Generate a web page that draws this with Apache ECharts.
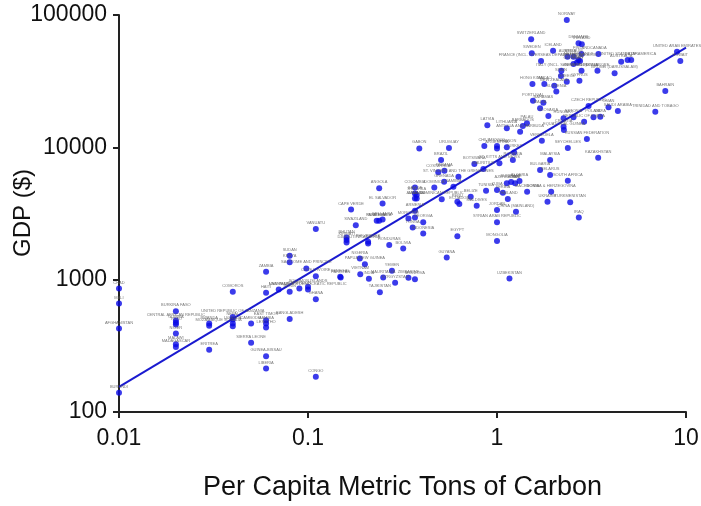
<!DOCTYPE html>
<html>
<head>
<meta charset="utf-8">
<script src="https://cdn.jsdelivr.net/npm/echarts@6/dist/echarts.min.js"></script>
<style>
html,body{margin:0;padding:0;background:#fff;}
#chart{width:701px;height:506px;}
</style>
</head>
<body>
<div id="chart"></div>
<script>
// Country names, per capita carbon (metric tons), GDP ($)
const countries = [
"CHAD","MALI","AFGHANISTAN","BURUNDI","BURKINA FASO","CENTRAL AFRICAN REPUBLIC","GUINEA","TOGO","NIGER","MALAWI",
"MADAGASCAR","ERITREA","COMOROS","RWANDA","MOZAMBIQUE","UNITED REPUBLIC OF TANZANIA","NEPAL","UGANDA","SOMALIA","CAMBODIA",
"EAST TIMOR","GAMBIA","LESOTHO","BANGLADESH","SIERRA LEONE","GUINEA-BISSAU","LIBERIA","CONGO","ZAMBIA","SUDAN",
"KENYA","HAITI","MYANMAR","BENIN","CAMEROON","SOLOMON ISLANDS","LAO PEOPLE'S DEMOCRATIC REPUBLIC","COTE D'IVOIRE","GHANA","SENEGAL",
"ANGOLA","EL SALVADOR","CAPE VERDE","VANUATU","SWAZILAND","PARAGUAY","GUATEMALA","SRI LANKA","ARMENIA","MOROCCO",
"FIJI","GEORGIA","TONGA","INDONESIA","EGYPT","MONGOLIA","SYRIAN ARAB REPUBLIC","CHINA (MAINLAND)","JORDAN","BELIZE",
"MALDIVES","ECUADOR","PERU","COLOMBIA","SAMOA","ST. LUCIA","ALBANIA","JAMAICA","DOMINICA","DOMINICAN REPUBLIC",
"GRENADA","HONDURAS","BOLIVIA","BHUTAN","KIRIBATI","DJIBOUTI","NICARAGUA","PHILIPPINES","NIGERIA","PAPUA NEW GUINEA",
"GUYANA","SAO TOME AND PRINCIPE","PAKISTAN","VIETNAM","INDIA","YEMEN","KYRGYZSTAN","ZIMBABWE","MOLDOVA","TAJIKISTAN",
"UZBEKISTAN","MAURITANIA","GABON","URUGUAY","BRAZIL","PANAMA","COSTA RICA","ST. VINCENT AND THE GRENADINES","BOTSWANA","MAURITIUS",
"NAMIBIA","CHILE","MEXICO","ARGENTINA","LEBANON","TURKEY","ST. KITTS AND NEVIS","ROMANIA","VENEZUELA","RUSSIAN FEDERATION",
"SEYCHELLES","KAZAKHSTAN","MALAYSIA","BULGARIA","BELARUS","SOUTH AFRICA","AZERBAIJAN","SURINAME","IRAN","ALGERIA",
"TUNISIA","CUBA","SERBIA","THAILAND","MACEDONIA","BOSNIA & HERZEGOVINA","UKRAINE","TURKMENISTAN","IRAQ","LUXEMBOURG",
"NORWAY","SWITZERLAND","DENMARK","IRELAND","ICELAND","SWEDEN","CANADA","FINLAND","AUSTRIA","BELGIUM",
"NETHERLANDS","AUSTRALIA","UNITED STATES OF AMERICA","QATAR","UNITED ARAB EMIRATES","KUWAIT","FRANCE (INCL. OVERSEAS DEPARTMENTS)","GERMANY","JAPAN","UNITED KINGDOM",
"ITALY (INCL. SAN MARINO)","SINGAPORE","NEW CALEDONIA","BRUNEI (DARUSSALAM)","SPAIN","HONG KONG","NEW ZEALAND","MACAO","CYPRUS","GREECE",
"SLOVENIA","PORTUGAL","BAHAMAS","MALTA","BAHRAIN","CZECH REPUBLIC","SAUDI ARABIA","OMAN","TRINIDAD AND TOBAGO","SLOVAKIA",
"HUNGARY","ESTONIA","POLAND","LIBYA","REPUBLIC OF KOREA","CROATIA","LATVIA","LITHUANIA","ANTIGUA AND BARBUDA","BARBADOS",
"PALAU","EQUATORIAL GUINEA"
];
const carbon = [
0.01,0.01,0.01,0.01,0.02,0.02,0.02,0.02,0.02,0.02,
0.02,0.03,0.04,0.03,0.03,0.04,0.04,0.04,0.04,0.05,
0.06,0.06,0.06,0.08,0.05,0.06,0.06,0.11,0.06,0.08,
0.08,0.06,0.07,0.08,0.09,0.1,0.1,0.11,0.11,0.148,
0.238,0.248,0.169,0.11,0.179,0.231,0.238,0.248,0.368,0.34,
0.368,0.407,0.358,0.407,0.617,1.0,1.0,1.26,1.0,0.726,
0.781,0.632,0.617,0.368,0.368,0.376,0.368,0.376,0.466,0.51,
0.525,0.269,0.319,0.16,0.16,0.16,0.208,0.208,0.188,0.2,
0.542,0.098,0.149,0.189,0.21,0.278,0.289,0.34,0.368,0.24,
1.164,0.25,0.388,0.557,0.506,0.527,0.489,0.625,0.759,0.847,
0.588,0.857,1.0,1.0,1.127,1.233,1.03,1.213,1.727,2.99,
2.37,3.43,1.91,1.69,1.91,2.37,1.127,1.188,1.247,1.315,
0.875,1.0,1.074,1.141,1.443,1.935,1.85,2.44,2.71,6.53,
2.34,1.516,2.7,2.81,1.98,1.528,3.44,2.8,2.36,2.54,
2.7,4.54,4.91,5.13,8.96,9.33,1.71,2.54,2.65,2.75,
2.19,3.4,2.8,4.19,2.18,1.54,2.01,1.78,2.73,2.34,
2.06,1.55,1.76,1.69,7.77,3.05,4.36,3.89,6.88,1.87,
2.25,2.54,3.24,3.52,2.89,2.25,0.889,1.127,1.325,1.37,
1.44,2.26
];
const gdp = [
858,661,428,140,578,491,473,458,392,325,
310,296,809,467,448,523,500,467,445,467,
493,467,435,505,333,264,213,185,1146,1514,
1355,795,843,809,858,883,843,1062,711,1050,
4898,3767,3396,2410,2583,2786,2786,2851,3313,2904,
2952,2710,2483,2234,2133,1963,2710,3258,3358,4227,
3614,3724,3880,4977,4487,4355,4111,4111,4977,4045,
5495,1824,1722,2085,1991,1911,1880,1932,1446,1309,
1472,1217,1040,1101,1014,1166,946,1033,1009,804,
1021,1040,9818,9886,8017,6650,6470,5998,7480,6853,
5036,10230,10230,9818,10000,9160,7570,8017,11220,11560,
9886,8337,8017,6730,6166,5585,5346,5470,5346,5560,
4700,4753,4539,4064,4617,4617,3882,3838,2952,109400,
91800,65600,61200,60100,53800,51400,50800,50800,48400,48400,
45700,44400,45700,45700,52800,45000,45000,42700,43700,45000,
37900,37900,37900,36300,34600,30100,29200,30100,31800,31300,
26400,22500,21700,19700,26700,20500,18800,20100,18600,17260,
16570,16860,16860,17020,15630,14330,14660,13930,13120,14490,
15200,13500
];
// Regression line end points
const fitCarbon = [0.01, 10];
const fitGdp = [155, 56600];

const xTickLabels = ['0.01','0.1','1','10'];
const yTickLabels = ['100','1000','10000','100000'];
const xTitle = 'Per Capita Metric Tons of Carbon';
const yTitle = 'GDP ($)';

const points = countries.map((n, i) => [carbon[i], gdp[i], n]);
const fitLine = fitCarbon.map((c, i) => [c, fitGdp[i]]);

function fmt(list) {
  return function (v) {
    const s = String(+Number(v).toPrecision(4));
    return list.indexOf(s) >= 0 ? s : '';
  };
}

const FONT = '"Liberation Sans", Arial, sans-serif';
const chart = echarts.init(document.getElementById('chart'), null, {renderer: 'canvas'});
chart.setOption({
  animation: false,
  backgroundColor: '#ffffff',
  textStyle: {fontFamily: FONT},
  grid: {left: 119, right: 15, top: 15, bottom: 94, containLabel: false, outerBoundsMode: 'none'},
  graphic: [{
    type: 'text',
    x: 23, y: 213,
    rotation: Math.PI / 2,
    style: {
      text: yTitle,
      fontSize: 24,
      fontFamily: FONT,
      fill: '#111',
      align: 'center',
      verticalAlign: 'middle'
    }
  }],
  xAxis: {
    type: 'log', logBase: 10, min: 0.01, max: 10,
    name: xTitle,
    nameLocation: 'middle', nameGap: 62,
    nameTextStyle: {fontSize: 27, color: '#111', fontFamily: FONT},
    axisLine: {show: true, onZero: false, lineStyle: {color: '#222', width: 2}},
    axisTick: {show: true, length: 6, lineStyle: {color: '#222', width: 2}},
    minorTick: {show: false},
    splitLine: {show: false},
    axisLabel: {fontSize: 23, color: '#111', margin: 15, formatter: fmt(xTickLabels)}
  },
  yAxis: {
    type: 'log', logBase: 10, min: 100, max: 100000,
    axisLine: {show: true, onZero: false, lineStyle: {color: '#222', width: 2}},
    axisTick: {show: true, length: 6, lineStyle: {color: '#222', width: 2}},
    minorTick: {show: false},
    splitLine: {show: false},
    axisLabel: {fontSize: 23, color: '#111', margin: 12, formatter: fmt(yTickLabels)}
  },
  series: [
    {
      type: 'line',
      data: fitLine,
      symbol: 'none',
      lineStyle: {color: '#1a1ad0', width: 2},
      z: 2
    },
    {
      type: 'scatter',
      data: points,
      symbol: 'circle',
      symbolSize: 6,
      itemStyle: {color: '#0a0ae6'},
      label: {
        show: true,
        position: 'top',
        distance: 1,
        fontSize: 4,
        color: '#555',
        formatter: p => p.data[2]
      },
      z: 3
    }
  ]
});
</script>
</body>
</html>
